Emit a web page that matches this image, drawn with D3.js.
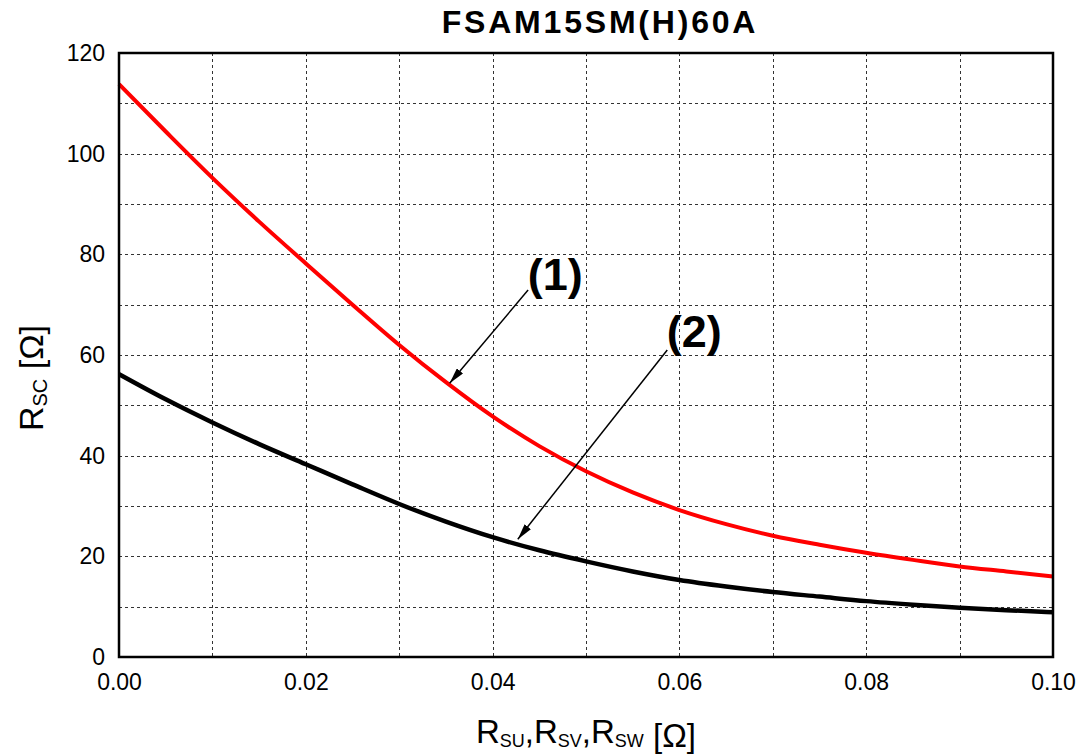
<!DOCTYPE html>
<html>
<head>
<meta charset="utf-8">
<script src="https://cdn.jsdelivr.net/npm/d3@7"></script>
<style>
  body { margin: 0; background: #fff; }
  svg { display: block; font-family: Arial, "Liberation Sans", sans-serif; }
</style>
</head>
<body>
<div id="chart"></div>
<script>
// R_SU,R_SV,R_SW [ohm] values
const xValues = [0, 0.005, 0.01, 0.015, 0.02, 0.025, 0.03, 0.035, 0.04, 0.045, 0.05,
                 0.055, 0.06, 0.065, 0.07, 0.075, 0.08, 0.085, 0.09, 0.095, 0.1];
// curve (1), red
const rsc1 = [113.8, 104.4, 95.2, 86.5, 78.2, 70.0, 62.0, 54.6, 47.8, 41.9, 36.9,
              32.7, 29.2, 26.4, 24.1, 22.3, 20.7, 19.3, 18.0, 17.0, 16.0];
// curve (2), black
const rsc2 = [56.2, 51.2, 46.6, 42.3, 38.3, 34.3, 30.4, 26.9, 23.8, 21.2, 19.0,
              17.0, 15.3, 14.0, 12.9, 12.0, 11.1, 10.4, 9.8, 9.3, 8.9];

const xTicks = [0, 0.02, 0.04, 0.06, 0.08, 0.10];
const yTicks = [0, 20, 40, 60, 80, 100, 120];
const xGrid = d3.range(1, 10).map(i => i / 100);
const yGrid = d3.range(10, 120, 10);

// annotation labels and arrows, in data units
const labels = [
    { text: '(1)', x: 0.0467, y: 72.9, x0: 0.0438, y0: 72.9, x1: 0.0354, y1: 54.4 },
    { text: '(2)', x: 0.0616, y: 61.6, x0: 0.0587, y0: 61.0, x1: 0.0427, y1: 23.4 }
];

const width = 1083, height = 756;
const margin = { top: 53, right: 30, bottom: 99, left: 119 };

const svg = d3.select('#chart')
    .append('svg')
    .attr('width', width)
    .attr('height', height);

const x = d3.scaleLinear().domain([0, 0.1]).range([margin.left, width - margin.right]);
const y = d3.scaleLinear().domain([0, 120]).range([height - margin.bottom, margin.top]);

// arrow marker
svg.append('defs').append('marker')
    .attr('id', 'arrow')
    .attr('viewBox', '0 0 16 8')
    .attr('refX', 16)
    .attr('refY', 4)
    .attr('markerWidth', 16)
    .attr('markerHeight', 8)
    .attr('markerUnits', 'userSpaceOnUse')
    .attr('orient', 'auto')
    .append('path')
    .attr('d', 'M0,0 L16,4 L0,8 Z')
    .attr('fill', '#000');

// grid
const grid = svg.append('g')
    .attr('stroke', '#333')
    .attr('stroke-width', 1)
    .attr('stroke-dasharray', '3,3');

grid.selectAll('.vg')
    .data(xGrid)
    .join('line')
    .attr('x1', d => Math.round(x(d)) + 0.5)
    .attr('x2', d => Math.round(x(d)) + 0.5)
    .attr('y1', y(120))
    .attr('y2', y(0));

grid.selectAll('.hg')
    .data(yGrid)
    .join('line')
    .attr('x1', x(0))
    .attr('x2', x(0.1))
    .attr('y1', d => Math.round(y(d)) + 0.5)
    .attr('y2', d => Math.round(y(d)) + 0.5);

// axes (labels only, frame drawn separately)
const xAxis = svg.append('g')
    .attr('transform', `translate(0,${y(0)})`)
    .call(d3.axisBottom(x).tickValues(xTicks).tickFormat(d3.format('.2f')).tickSize(0).tickPadding(17));

const yAxis = svg.append('g')
    .attr('transform', `translate(${x(0)},0)`)
    .call(d3.axisLeft(y).tickValues(yTicks).tickSize(0).tickPadding(14));

[xAxis, yAxis].forEach(a => {
    a.select('.domain').remove();
    a.selectAll('text')
        .attr('font-size', 23)
        .attr('fill', '#000')
        .attr('font-family', 'Arial, "Liberation Sans", sans-serif');
});

// curves
const line = d3.line()
    .x((d, i) => x(xValues[i]))
    .y(d => y(d))
    .curve(d3.curveMonotoneX);

svg.append('path')
    .datum(rsc2)
    .attr('fill', 'none')
    .attr('stroke', '#000')
    .attr('stroke-width', 4.5)
    .attr('d', line);

svg.append('path')
    .datum(rsc1)
    .attr('fill', 'none')
    .attr('stroke', '#ff0000')
    .attr('stroke-width', 4)
    .attr('d', line);

// frame
svg.append('rect')
    .attr('x', x(0))
    .attr('y', y(120))
    .attr('width', x(0.1) - x(0))
    .attr('height', y(0) - y(120))
    .attr('fill', 'none')
    .attr('stroke', '#000')
    .attr('stroke-width', 2.5);

// annotations
svg.append('g')
    .selectAll('line')
    .data(labels)
    .join('line')
    .attr('x1', d => x(d.x0))
    .attr('y1', d => y(d.y0))
    .attr('x2', d => x(d.x1))
    .attr('y2', d => y(d.y1))
    .attr('stroke', '#000')
    .attr('stroke-width', 1.5)
    .attr('marker-end', 'url(#arrow)');

svg.append('g')
    .selectAll('text')
    .data(labels)
    .join('text')
    .attr('x', d => x(d.x))
    .attr('y', d => y(d.y))
    .attr('text-anchor', 'middle')
    .attr('font-size', 45)
    .attr('font-weight', 'bold')
    .text(d => d.text);

// title
svg.append('text')
    .attr('x', 600)
    .attr('y', 33)
    .attr('text-anchor', 'middle')
    .attr('font-size', 32)
    .attr('font-weight', 'bold')
    .attr('letter-spacing', 2.8)
    .text('FSAM15SM(H)60A');

// x axis title
const xt = svg.append('text')
    .attr('x', (x(0) + x(0.1)) / 2)
    .attr('y', 743)
    .attr('text-anchor', 'middle')
    .attr('font-size', 33);
[['R', 'SU', ','], ['R', 'SV', ','], ['R', 'SW', '']].forEach(([a, b, c]) => {
    xt.append('tspan').text(a);
    xt.append('tspan').attr('font-size', 18).attr('dy', 4).text(b);
    xt.append('tspan').attr('dy', -4).text(c);
});
xt.append('tspan').text(' [Ω]');

// y axis title
const yt = svg.append('text')
    .attr('transform', `translate(43,378) rotate(-90)`)
    .attr('text-anchor', 'middle')
    .attr('font-size', 34);
yt.append('tspan').text('R');
yt.append('tspan').attr('font-size', 20).attr('dy', 4).text('SC');
yt.append('tspan').attr('dy', -4).text(' [Ω]');
</script>
</body>
</html>
